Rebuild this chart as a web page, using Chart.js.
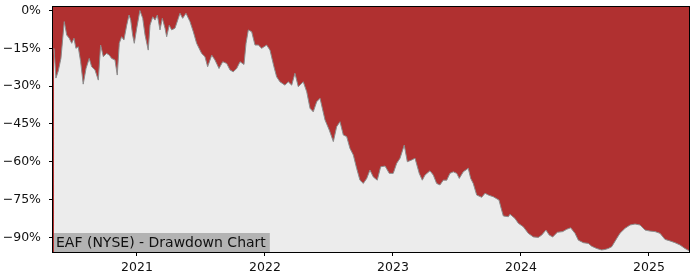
<!DOCTYPE html>
<html>
<head>
<meta charset="utf-8">
<script src="https://cdn.jsdelivr.net/npm/chart.js@4"></script>
<style>
  html, body { margin: 0; padding: 0; background: #fff; }
  #wrap { width: 700px; height: 280px; }
</style>
</head>
<body>
<div id="wrap"><canvas id="dd"></canvas></div>
<script>
// decimal year of each sample
const dates = [
  2020.352, 2020.367, 2020.385, 2020.406, 2020.432, 2020.451, 2020.471, 2020.490, 2020.508, 2020.523,
  2020.541, 2020.560, 2020.580, 2020.602, 2020.627, 2020.646, 2020.672, 2020.698, 2020.716, 2020.737,
  2020.763, 2020.784, 2020.802, 2020.828, 2020.846, 2020.862, 2020.880, 2020.898, 2020.920, 2020.938,
  2020.951, 2020.966, 2020.979, 2020.998, 2021.023, 2021.045, 2021.063, 2021.088, 2021.102, 2021.123,
  2021.141, 2021.159, 2021.180, 2021.198, 2021.219, 2021.232, 2021.252, 2021.271, 2021.297, 2021.323,
  2021.336, 2021.357, 2021.383, 2021.414, 2021.440, 2021.466, 2021.505, 2021.531, 2021.552, 2021.584,
  2021.609, 2021.641, 2021.670, 2021.701, 2021.727, 2021.752, 2021.779, 2021.805, 2021.836, 2021.852,
  2021.870, 2021.896, 2021.922, 2021.948, 2021.974, 2022.013, 2022.039, 2022.070, 2022.091, 2022.117,
  2022.156, 2022.182, 2022.209, 2022.234, 2022.260, 2022.299, 2022.326, 2022.352, 2022.377, 2022.404,
  2022.430, 2022.469, 2022.502, 2022.534, 2022.560, 2022.586, 2022.612, 2022.638, 2022.664, 2022.690,
  2022.716, 2022.742, 2022.768, 2022.795, 2022.820, 2022.846, 2022.877, 2022.904, 2022.938, 2022.971,
  2023.002, 2023.029, 2023.055, 2023.088, 2023.112, 2023.146, 2023.172, 2023.205, 2023.229, 2023.250,
  2023.289, 2023.315, 2023.341, 2023.367, 2023.393, 2023.420, 2023.445, 2023.471, 2023.498, 2023.518,
  2023.549, 2023.588, 2023.607, 2023.627, 2023.654, 2023.693, 2023.719, 2023.745, 2023.784, 2023.828,
  2023.849, 2023.862, 2023.901, 2023.914, 2023.953, 2023.979, 2024.018, 2024.057, 2024.096, 2024.135,
  2024.162, 2024.195, 2024.221, 2024.248, 2024.284, 2024.326, 2024.357, 2024.388, 2024.422, 2024.448,
  2024.487, 2024.526, 2024.552, 2024.591, 2024.630, 2024.656, 2024.682, 2024.709, 2024.748, 2024.773,
  2024.813, 2024.852, 2024.891, 2024.930, 2024.969, 2025.008, 2025.047, 2025.086, 2025.125, 2025.164,
  2025.203, 2025.242, 2025.281, 2025.313
];

// drawdown from running peak, percent
const drawdown = [
  -15, -26.8, -24, -19, -4.4, -9.7, -11, -13, -11, -15,
  -14.4, -20.3, -29.2, -23, -19, -22.3, -23.6, -27.6, -13.7, -18.3,
  -17, -17.7, -19, -19.6, -25.6, -13, -10.4, -11.7, -5.8, -1.8,
  -3.8, -9.7, -13, -7, 0, -3.1, -9.7, -15.7, -5.8, -2.5,
  -3.8, -1.8, -7.7, -3.1, -7, -10.4, -5.8, -7.7, -7, -3.1,
  -1.1, -3.1, -1.1, -4.4, -8.4, -13, -17, -18.3, -22.3, -17.7,
  -19.6, -23, -20.3, -21, -23.6, -24.3, -23, -20.3, -21.4, -13,
  -7.7, -8.4, -13.7, -13.7, -15, -13.7, -15.7, -22.3, -26.3, -28.3,
  -29.6, -28.3, -29.6, -24.9, -30.2, -28.3, -32.2, -38.8, -40.2, -36.2,
  -34.8, -43.4, -47.4, -52, -46.1, -44.1, -49.4, -50, -54.7, -57.3,
  -62.6, -67.3, -68.6, -66.6, -63.3, -66, -67.3, -62, -61.7, -64.6,
  -64.6, -60.6, -58.6, -53.4, -60, -59.3, -58.6, -64.6, -67.3, -65.3,
  -63.6, -65.3, -68.6, -69.2, -67.3, -67.3, -64.6, -64, -64.6, -66.6,
  -64, -62.6, -66.6, -68.6, -73.2, -74.1, -72.5, -73.2, -73.9, -75.2,
  -79.2, -81.5, -81.8, -80.8, -82.5, -84.4, -85.8, -88.4, -89.8, -90,
  -89.1, -87.1, -89.1, -89.8, -88, -87.7, -86.8, -86.2, -88.4, -91.1,
  -92.1, -92.4, -93.5, -94.4, -95, -94.8, -94.4, -93.7, -90.4, -88.4,
  -86.4, -85.1, -84.7, -85.1, -87.1, -87.5, -87.7, -88.4, -90.8, -91.4,
  -92.1, -93, -94.4, -95.3
];

const yearTicks = [2021, 2022, 2023, 2024, 2025];
const pctTicks = [-90, -75, -60, -45, -30, -15, 0];
const title = "EAF (NYSE) - Drawdown Chart";

const FONT = "'DejaVu Sans', sans-serif";

const frame = {
  id: "frame",
  beforeDatasetsDraw(chart) {
    const { ctx, chartArea: a } = chart;
    ctx.save();
    ctx.fillStyle = "#b03030";
    ctx.fillRect(a.left, a.top, a.right - a.left, a.bottom - a.top);
    ctx.restore();
  },
  afterDatasetsDraw(chart) {
    const { ctx, chartArea: a } = chart;
    ctx.save();
    // label box bottom-left
    ctx.font = "14px " + FONT;
    const w = ctx.measureText(title).width;
    ctx.fillStyle = "#b3b3b3";
    ctx.fillRect(a.left + 1, a.bottom - 19, w + 6, 19);
    ctx.fillStyle = "#111";
    ctx.textBaseline = "middle";
    ctx.fillText(title, a.left + 3, a.bottom - 9);
    // spines
    ctx.strokeStyle = "#000";
    ctx.lineWidth = 1;
    ctx.strokeRect(a.left - 0.5, a.top - 0.5, a.right - a.left + 1, a.bottom - a.top + 1);
    ctx.restore();
  }
};

new Chart(document.getElementById("dd"), {
  type: "line",
  data: {
    datasets: [{
      data: dates.map((d, i) => ({ x: d, y: drawdown[i] })),
      borderColor: "#8c8c8c",
      borderWidth: 1,
      backgroundColor: "#ececec",
      fill: "start",
      pointRadius: 0,
      tension: 0
    }]
  },
  options: {
    responsive: true,
    maintainAspectRatio: false,
    animation: false,
    layout: { padding: { left: 0, top: 7, right: 11, bottom: 0 } },
    plugins: { legend: { display: false }, tooltip: { enabled: false } },
    scales: {
      x: {
        type: "linear",
        min: 2020.344,
        max: 2025.3125,
        afterBuildTicks: s => { s.ticks = yearTicks.map(v => ({ value: v })); },
        afterFit: s => { s.height = 28; s.paddingLeft = 0; s.paddingRight = 0; },
        border: { display: true, color: "#000" },
        grid: { drawOnChartArea: false, drawTicks: true, tickLength: 4, color: "#000" },
        ticks: {
          color: "#111",
          font: { family: FONT, size: 12.5 },
          padding: 4,
          maxRotation: 0,
          callback: v => String(v)
        }
      },
      y: {
        min: -95.8,
        max: 1.4,
        afterBuildTicks: s => { s.ticks = pctTicks.map(v => ({ value: v })); },
        afterFit: s => { s.width = 53; s.paddingTop = 0; s.paddingBottom = 0; },
        border: { display: true, color: "#000" },
        grid: { drawOnChartArea: false, drawTicks: true, tickLength: 4, color: "#000" },
        ticks: {
          color: "#111",
          font: { family: FONT, size: 12.5 },
          padding: 8,
          callback: v => v === 0 ? "0%" : "\u2212" + Math.abs(v) + "%"
        }
      }
    }
  },
  plugins: [frame]
});
</script>
</body>
</html>
